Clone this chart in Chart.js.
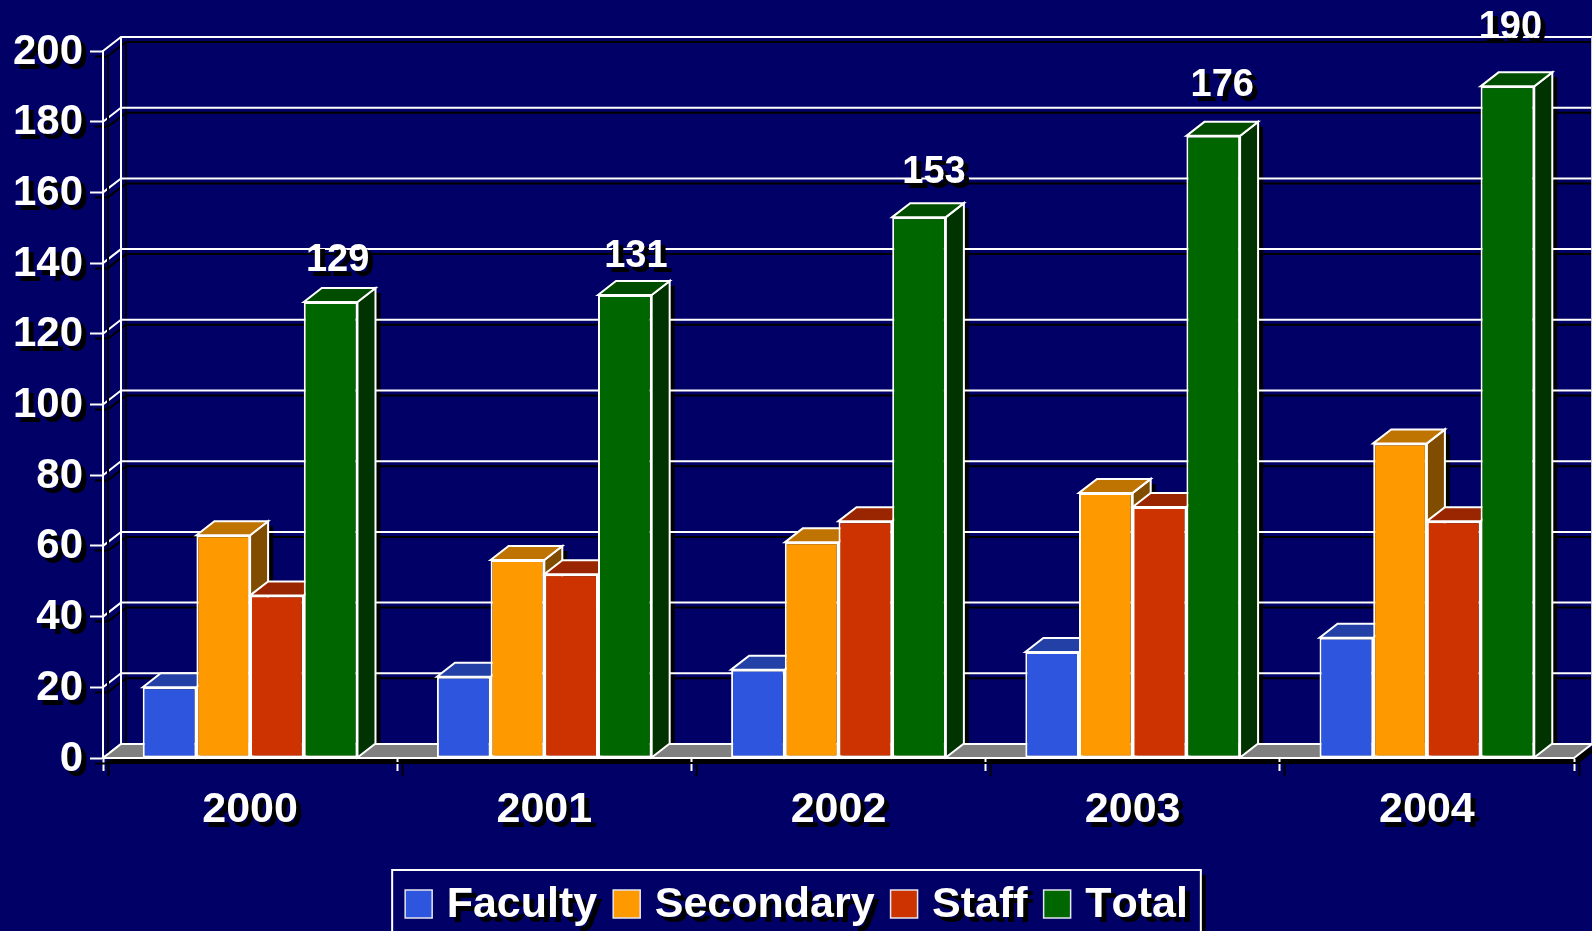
<!DOCTYPE html>
<html><head><meta charset="utf-8">
<style>html,body{margin:0;padding:0;background:#000066;overflow:hidden}canvas{display:block}</style>
<script src="https://cdn.jsdelivr.net/npm/chart.js@4"></script>
</head><body><canvas id="c" width="1592" height="931"></canvas>
<script>
const categories = ['2000','2001','2002','2003','2004'];
const faculty   = [20,23,25,30,34];
const secondary = [63,56,61,75,89];
const staff     = [46,52,67,71,67];
const total     = [129,131,153,176,190];
const labelShiftX = [7,11,15,9,3];
const labelLift   = [41,38,45,50,59];

const DX = 18, DY = 14, SH = 5;
const FONT = '"Liberation Sans", Arial, sans-serif';
const palette = [
  {front:'#2d55dd', top:'#2240a5', side:'#1b3080'},
  {front:'#ff9900', top:'#bf7300', side:'#7f4c00'},
  {front:'#cc3300', top:'#992600', side:'#661900'},
  {front:'#006600', top:'#004d00', side:'#003300'}
];
function poly(ctx, pts){ctx.beginPath();pts.forEach((p,i)=>i?ctx.lineTo(p[0],p[1]):ctx.moveTo(p[0],p[1]));ctx.closePath();}
function shadowOn(ctx,on){ctx.shadowColor=on?'#000':'rgba(0,0,0,0)';ctx.shadowOffsetX=on?SH:0;ctx.shadowOffsetY=on?SH:0;ctx.shadowBlur=0;}
const hex=b=>{const w=b.width/2,l=b.x-w,r=b.x+w;
  return [[l,b.base],[l,b.y],[l+DX,b.y-DY],[r+DX,b.y-DY],[r+DX,b.base-DY],[r,b.base]];};
const floorOf=a=>[[a.left,a.bottom],[a.left+DX,a.bottom-DY],[a.right+DX,a.bottom-DY],[a.right,a.bottom]];

const deco = {
  id:'deco',
  beforeUpdate(chart){ chart.ctx.fontKerning='none'; },
  afterLayout(chart){
    const l=chart.legend; const h=l.height; l.top=868; l.bottom=868+h; l.left+=9.5; l.right+=9.5;
  },
  beforeDraw(chart){
    const {ctx,chartArea:a,scales:{y}}=chart;
    ctx.fontKerning='none';
    ctx.save();
    ctx.fillStyle='#000066';ctx.fillRect(0,0,chart.width,chart.height);
    const values=y.ticks.map(t=>t.value);
    const pass=(off,col)=>{
      ctx.strokeStyle=col;ctx.lineWidth=2;ctx.beginPath();
      values.forEach(v=>{const py=y.getPixelForValue(v);
        ctx.moveTo(a.left+off,py+off);ctx.lineTo(a.left+DX+off,py-DY+off);ctx.lineTo(a.right+DX+off,py-DY+off);});
      ctx.moveTo(a.left+DX+off,a.bottom-DY+off);ctx.lineTo(a.left+DX+off,a.top-DY+off);
      ctx.stroke();
    };
    pass(SH,'#000');
    // all black drop shadows go down first, white lines pass over them
    ctx.fillStyle='#000';
    poly(ctx,floorOf(a).map(p=>[p[0]+SH,p[1]+SH]));ctx.fill();
    chart.getSortedVisibleDatasetMetas().forEach(m=>m.data.forEach(b=>{poly(ctx,hex(b).map(p=>[p[0]+SH,p[1]+SH]));ctx.fill();}));
    pass(0,'#fff');
    ctx.strokeStyle='#c8c8e0';ctx.lineWidth=1;ctx.beginPath();ctx.moveTo(a.right+DX-.5,a.top-DY);ctx.lineTo(a.right+DX-.5,a.bottom-DY);ctx.stroke();
    // legend frame
    const hb=chart.legend.legendHitBoxes, L=hb[0].left-13, R=hb[3].left+hb[3].width+13;
    ctx.fillStyle='#000';ctx.fillRect(L+SH,870+SH,R-L,80);
    ctx.fillStyle='#000066';ctx.strokeStyle='#fff';ctx.lineWidth=2;
    ctx.fillRect(L,870,R-L,80);ctx.strokeRect(L,870,R-L,80);
    ctx.restore();
    shadowOn(ctx,true);
  },
  beforeDatasetsDraw(chart){
    const {ctx,chartArea:a}=chart;
    shadowOn(ctx,false);
    ctx.save();
    const metas=chart.getSortedVisibleDatasetMetas();
    ctx.fillStyle='#808080';ctx.strokeStyle='#fff';ctx.lineWidth=2;ctx.lineJoin='miter';
    poly(ctx,floorOf(a));ctx.fill();ctx.stroke();
    categories.forEach((c,i)=>{
      metas.forEach((m,k)=>{
        const b=m.data[i],w=b.width/2,l=b.x-w,r=b.x+w,col=palette[k];
        ctx.fillStyle=col.side;poly(ctx,[[r,b.y],[r+DX,b.y-DY],[r+DX,b.base-DY],[r,b.base]]);ctx.fill();ctx.stroke();
        ctx.fillStyle=col.top;poly(ctx,[[l,b.y],[l+DX,b.y-DY],[r+DX,b.y-DY],[r,b.y]]);ctx.fill();ctx.stroke();
      });
    });
    ctx.restore();
  },
  afterDatasetsDraw(chart){
    const {ctx}=chart;
    ctx.save();
    const m=chart.getDatasetMeta(3);
    shadowOn(ctx,true);
    ctx.fillStyle='#fff';ctx.font='bold 38px '+FONT;ctx.textAlign='center';ctx.textBaseline='middle';
    m.data.forEach((b,i)=>ctx.fillText(String(total[i]),b.x+labelShiftX[i],b.y-labelLift[i]));
    shadowOn(ctx,false);
    chart.legend.legendHitBoxes.forEach((h,i)=>{
      ctx.fillStyle=palette[i].front;ctx.fillRect(h.left,890,27,28);
      ctx.strokeStyle='#e6e6f0';ctx.lineWidth=1.5;ctx.strokeRect(h.left,890,27,28);
    });
    ctx.restore();
  }
};

new Chart(document.getElementById('c'),{
  type:'bar',
  data:{labels:categories,datasets:[
    {label:'Faculty',data:faculty,backgroundColor:palette[0].front},
    {label:'Secondary',data:secondary,backgroundColor:palette[1].front},
    {label:'Staff',data:staff,backgroundColor:palette[2].front},
    {label:'Total',data:total,backgroundColor:palette[3].front}
  ]},
  options:{
    responsive:false,animation:false,events:[],
    layout:{autoPadding:false,padding:{top:51,right:18,left:0,bottom:0}},
    datasets:{bar:{categoryPercentage:0.73,barPercentage:1,borderColor:'#fff',borderWidth:2,borderSkipped:false}},
    plugins:{
      tooltip:{enabled:false},
      legend:{display:true,position:'bottom',align:'center',
        labels:{color:'#fff',boxWidth:20,padding:16,font:{family:FONT,size:43,weight:'bold'},
          generateLabels(chart){
            return Chart.defaults.plugins.legend.labels.generateLabels(chart).map(l=>Object.assign(l,{fillStyle:'rgba(0,0,0,0)',strokeStyle:'rgba(0,0,0,0)',lineWidth:0}));
          }}}
    },
    scales:{
      x:{
        afterFit(s){s.height=931-758-s.chart.legend.height;},
        grid:{drawOnChartArea:false,drawTicks:true,tickLength:13,tickWidth:2,tickColor:'#fff',offset:true},
        border:{display:true,color:'#fff',width:2},
        ticks:{color:'#fff',padding:13,maxRotation:0,autoSkip:false,font:{family:FONT,size:43,weight:'bold'}}
      },
      y:{
        min:0,max:200,
        afterFit(s){s.width=103;},
        grid:{drawOnChartArea:false,drawTicks:true,tickLength:13,tickWidth:2,tickColor:'#fff'},
        border:{display:true,color:'#fff',width:2},
        ticks:{color:'#fff',stepSize:20,padding:7,labelOffset:1,autoSkip:false,font:{family:FONT,size:42,weight:'bold'}}
      }
    }
  },
  plugins:[deco]
});
</script></body></html>
